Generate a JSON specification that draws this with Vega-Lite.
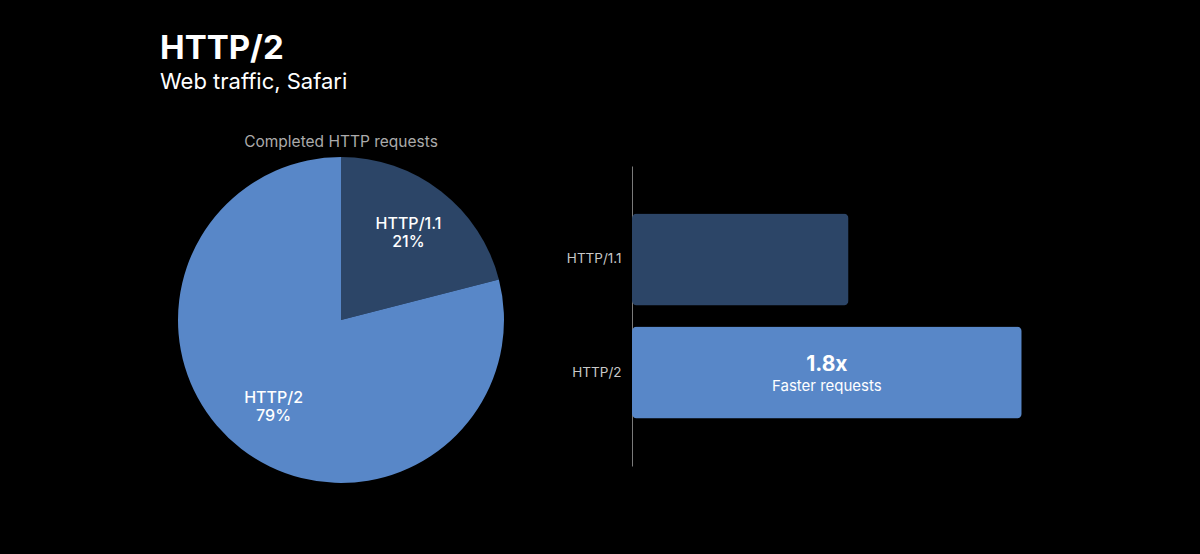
{
  "$schema": "https://vega.github.io/schema/vega-lite/v6.json",
  "background": "#000000",
  "padding": {"left": 160, "top": 32, "right": 135, "bottom": 71},
  "bounds": "flush",
  "spacing": 128,
  "title": {
    "text": "HTTP/2",
    "subtitle": "Web traffic, Safari",
    "anchor": "start",
    "dx": -18,
    "offset": 42,
    "font": "Inter",
    "fontSize": 33,
    "fontWeight": "bold",
    "color": "#ffffff",
    "subtitleFont": "Inter",
    "subtitleFontSize": 22,
    "subtitleColor": "#ffffff",
    "subtitlePadding": 6
  },
  "data": {
    "values": [
      {"protocol": "HTTP/1.1", "share": 21, "speed": 1.0},
      {"protocol": "HTTP/2", "share": 79, "speed": 1.8}
    ]
  },
  "hconcat": [
    {
      "width": 326,
      "height": 326,
      "title": {
        "text": "Completed HTTP requests",
        "font": "Inter",
        "fontSize": 15.5,
        "fontWeight": "normal",
        "color": "#ababab",
        "anchor": "middle",
        "offset": 7
      },
      "transform": [
        {"calculate": "datum.protocol + '\\n' + datum.share + '%'", "as": "label"}
      ],
      "layer": [
        {
          "mark": {"type": "arc", "outerRadius": 163},
          "encoding": {
            "theta": {"field": "share", "type": "quantitative", "stack": true},
            "order": {"field": "protocol", "sort": "ascending"},
            "color": {
              "field": "protocol",
              "type": "nominal",
              "scale": {"domain": ["HTTP/1.1", "HTTP/2"], "range": ["#2c4567", "#5887c8"]},
              "legend": null
            }
          }
        },
        {
          "mark": {
            "type": "text",
            "radius": 110,
            "lineBreak": "\n",
            "lineHeight": 18,
            "font": "Inter",
            "fontSize": 16,
            "fontWeight": 500,
            "color": "#ffffff",
            "baseline": "middle",
            "align": "center",
            "dy": -9
          },
          "encoding": {
            "theta": {"field": "share", "type": "quantitative", "stack": true},
            "order": {"field": "protocol", "sort": "ascending"},
            "text": {"field": "label", "type": "nominal"}
          }
        }
      ]
    },
    {
      "width": 433,
      "height": 326,
      "transform": [
        {"calculate": "datum.speed / 2", "as": "mid"}
      ],
      "layer": [
        {
          "mark": {"type": "bar", "cornerRadius": 5},
          "encoding": {
            "y": {
              "field": "protocol",
              "type": "nominal",
              "sort": ["HTTP/1.1", "HTTP/2"],
              "scale": {"range": [9, 309], "paddingInner": 0.186, "paddingOuter": 0.42},
              "axis": {
                "title": null,
                "ticks": false,
                "grid": false,
                "domainColor": "#7a7a7a",
                "domainWidth": 1,
                "labelColor": "#c8c8c8",
                "labelFont": "Inter",
                "labelFontSize": 13.5,
                "labelPadding": 11
              }
            },
            "x": {"field": "speed", "type": "quantitative", "scale": {"domain": [0, 2]}, "axis": null},
            "color": {"field": "protocol", "type": "nominal", "legend": null}
          }
        },
        {
          "transform": [{"filter": "datum.protocol === 'HTTP/2'"}],
          "mark": {"type": "text", "font": "Inter", "fontSize": 21, "fontWeight": "bold", "color": "#ffffff", "baseline": "alphabetic", "align": "center", "dy": -2},
          "encoding": {
            "y": {"field": "protocol", "type": "nominal", "sort": ["HTTP/1.1", "HTTP/2"]},
            "x": {"field": "mid", "type": "quantitative"},
            "text": {"value": "1.8x"}
          }
        },
        {
          "transform": [{"filter": "datum.protocol === 'HTTP/2'"}],
          "mark": {"type": "text", "font": "Inter", "fontSize": 15, "color": "#ffffff", "baseline": "alphabetic", "align": "center", "dy": 18},
          "encoding": {
            "y": {"field": "protocol", "type": "nominal", "sort": ["HTTP/1.1", "HTTP/2"]},
            "x": {"field": "mid", "type": "quantitative"},
            "text": {"value": "Faster requests"}
          }
        }
      ]
    }
  ],
  "config": {
    "view": {"stroke": null}
  }
}
